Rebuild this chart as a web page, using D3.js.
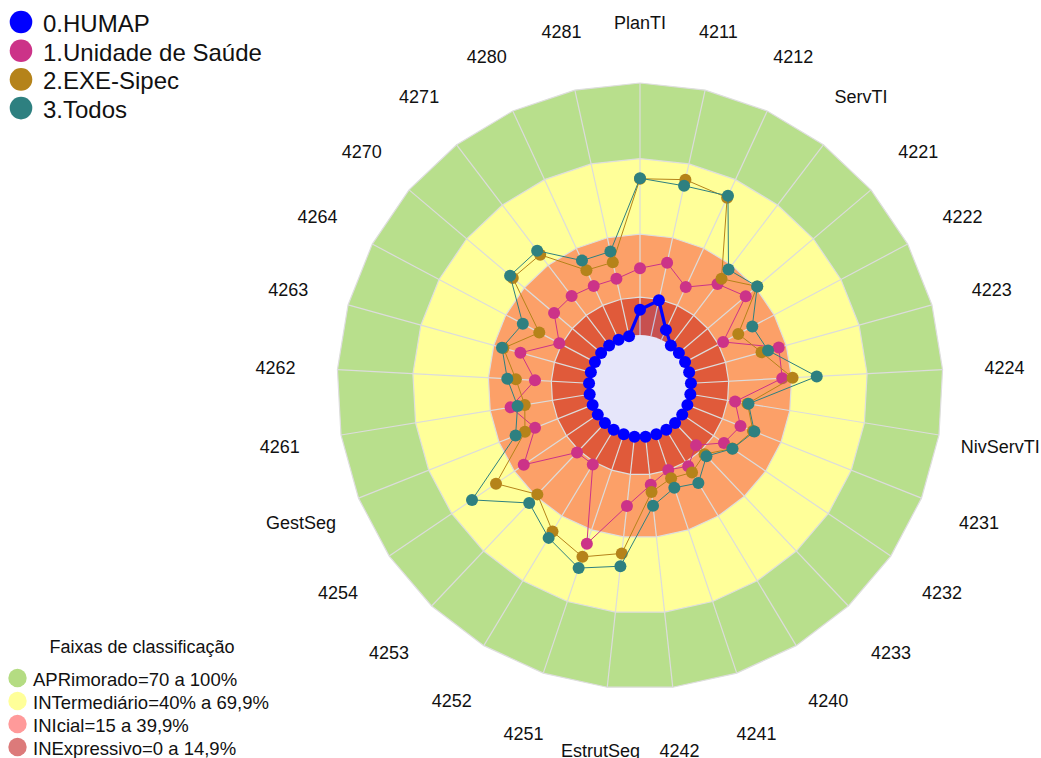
<!DOCTYPE html>
<html>
<head>
<meta charset="utf-8">
<title>Radar</title>
<style>
body { margin: 0; background-color: #ffffff; }
text { font-family: Arial, "Liberation Sans", sans-serif; }
</style>
</head>
<body>
<script src="https://cdnjs.cloudflare.com/ajax/libs/d3/7.8.5/d3.min.js"></script>
<script>

var categories = ["PlanTI","4211","4212","ServTI","4221","4222","4223","4224","NivServTI",
  "4231","4232","4233","4240","4241","4242","EstrutSeg","4251","4252","4253","4254",
  "GestSeg","4261","4262","4263","4264","4270","4271","4280","4281"];

var seriesNames = ["0.HUMAP","1.Unidade de Saúde","2.EXE-Sipec","3.Todos"];
var seriesColors = ["#0000ff","#cc3388","#b5831a","#2e8080"];

var humap   = [10,14.6,4.3,0,0,0,0,0,0,0,0,0,0,0,0,0,0,0,0,0,0,0,0,0,0,0,0,0,0];
var unidade = [26.5,29.8,23,30.6,34.8,17.1,36.9,36.3,18,22.7,20,12.1,16.9,14.9,19.2,27.7,45.8,
               16.1,16.1,35.5,24.6,31.8,21.5,29,16,24.5,24.6,23.5,23.3];
var exe     = [62,63.6,62.1,33.2,40.8,23.9,29.8,40.4,23,28,24,17,19.8,18.4,22.1,46.6,51.3,
               47.1,39,48.8,28.9,26.1,29.1,36,25,46,45.2,30.4,30];
var todos   = [62.2,61.1,62.9,37.8,40.8,30.2,32.5,50,23.4,28.6,24.1,18.1,24.7,22.4,27.6,51.7,56,
               50.1,43.7,60.3,32.9,29,32.5,36.6,32.4,47.4,47.2,34.6,34.4];

// faixas de classificacao (limite superior de cada faixa)
var bandNames  = ["APRimorado=70 a 100%","INTermediário=40% a 69,9%","INIcial=15 a 39,9%","INExpressivo=0 a 14,9%"];
var bandLimits = [100, 70, 40, 15];
var bandFill   = ["#b8df8c","#ffff99","#fca068","#e05a3a"];
var bandLegend = ["#b4dc82","#ffff99","#ff9a9a","#dc7a7a"];

var w = 1041, h = 758;
var cx = 640, cy = 386;
var n = categories.length;

var svg = d3.select("body").append("svg")
  .attr("width", w).attr("height", h);

var r = d3.scaleLinear().domain([0, 100]).range([51, 303]);
var ang = d3.scaleLinear().domain([0, n]).range([0, 2 * Math.PI]);

var g = svg.append("g").attr("transform", "translate(" + cx + "," + cy + ")");

// bands as polygons
var ringLine = d3.lineRadial().curve(d3.curveLinearClosed);
bandLimits.forEach(function(lim, k) {
  var pts = d3.range(n).map(function(i) { return [ang(i), r(lim)]; });
  g.append("path")
    .attr("d", ringLine(pts))
    .attr("fill", bandFill[k])
    .attr("stroke", "#dedede")
    .attr("stroke-width", 1.2);
});

// radial grid
g.selectAll("line.grid")
  .data(d3.range(n))
  .enter().append("line")
  .attr("class", "grid")
  .attr("x1", function(i) { return r(0) * Math.sin(ang(i)); })
  .attr("y1", function(i) { return -r(0) * Math.cos(ang(i)); })
  .attr("x2", function(i) { return r(100) * Math.sin(ang(i)); })
  .attr("y2", function(i) { return -r(100) * Math.cos(ang(i)); })
  .attr("stroke", "#dcdcdc")
  .attr("stroke-width", 1.2);

var radar = d3.lineRadial()
  .angle(function(d, i) { return ang(i); })
  .radius(function(d) { return r(d); })
  .curve(d3.curveLinearClosed);

// HUMAP fill
g.append("path")
  .attr("d", radar(humap))
  .attr("fill", "rgba(0,0,255,0.11)")
  .attr("stroke", "none");

// inner hole
g.append("circle")
  .attr("r", r(0))
  .attr("fill", "#e6e6fa");

var allSeries = [humap, unidade, exe, todos];
var widths = [3.2, 1, 1, 1];

allSeries.forEach(function(vals, s) {
  g.append("path")
    .attr("d", radar(vals))
    .attr("fill", "none")
    .attr("stroke", seriesColors[s])
    .attr("stroke-width", widths[s]);
  g.selectAll("circle.s" + s)
    .data(vals)
    .enter().append("circle")
    .attr("class", "s" + s)
    .attr("cx", function(d, i) { return r(d) * Math.sin(ang(i)); })
    .attr("cy", function(d, i) { return -r(d) * Math.cos(ang(i)); })
    .attr("r", 6)
    .attr("fill", seriesColors[s]);
});

// category labels
g.selectAll("text.lab")
  .data(categories)
  .enter().append("text")
  .attr("class", "lab")
  .attr("x", function(d, i) { return 365 * Math.sin(ang(i)); })
  .attr("y", function(d, i) { return 2 - 365 * Math.cos(ang(i)); })
  .attr("text-anchor", "middle")
  .attr("dominant-baseline", "central")
  .attr("font-size", "18px")
  .attr("fill", "#111")
  .text(function(d) { return d; });

// legend series
var leg = svg.append("g");
seriesNames.forEach(function(name, s) {
  var y = 22 + s * 28.7;
  leg.append("circle").attr("cx", 21).attr("cy", y).attr("r", 11.3).attr("fill", seriesColors[s]);
  leg.append("text").attr("x", 43).attr("y", y + 1.5)
    .attr("dominant-baseline", "central")
    .attr("font-size", "24px").attr("fill", "#111").text(name);
});

// legend bands
var leg2 = svg.append("g");
leg2.append("text").attr("x", 142).attr("y", 647)
  .attr("text-anchor", "middle").attr("dominant-baseline", "central")
  .attr("font-size", "18px").attr("fill", "#111").text("Faixas de classificação");
bandNames.forEach(function(name, k) {
  var y = 678 + k * 23;
  leg2.append("circle").attr("cx", 17.5).attr("cy", y).attr("r", 9.2).attr("fill", bandLegend[k]);
  leg2.append("text").attr("x", 33).attr("y", y + 1)
    .attr("dominant-baseline", "central")
    .attr("font-size", "18.5px").attr("fill", "#111").text(name);
});

</script>
</body>
</html>
